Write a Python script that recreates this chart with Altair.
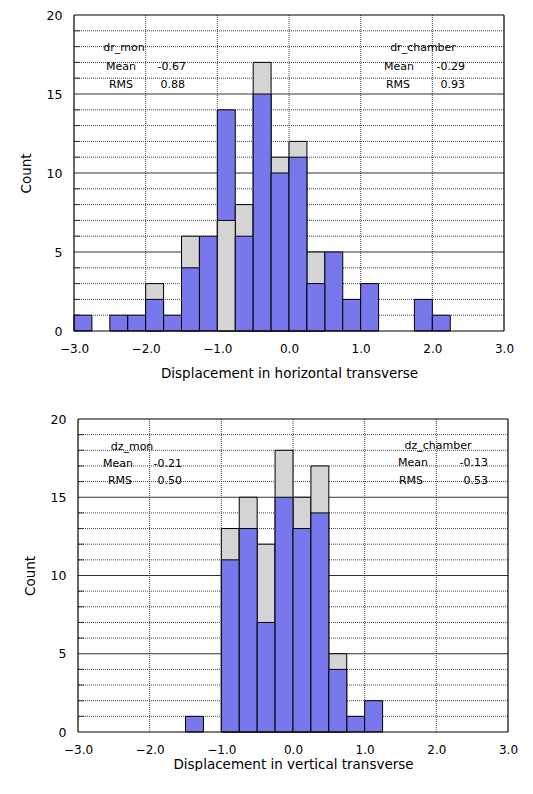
import altair as alt
import pandas as pd

# ---- data -------------------------------------------------------------
bin_start = [-3.0, -2.75, -2.5, -2.25, -2.0, -1.75, -1.5, -1.25,
             -1.0, -0.75, -0.5, -0.25, 0.0, 0.25, 0.5, 0.75,
             1.0, 1.25, 1.5, 1.75, 2.0, 2.25, 2.5, 2.75]
bin_width = 0.25

# horizontal transverse (dr)
dr_blue = [1, 0, 1, 1, 2, 1, 4, 6, 14, 6, 15, 10, 11, 3, 5, 2, 3, 0, 0, 2, 1, 0, 0, 0]
dr_grey = [0, 0, 0, 0, 3, 0, 6, 0, 7, 8, 17, 11, 12, 5, 0, 0, 0, 0, 0, 0, 0, 0, 0, 0]

# vertical transverse (dz)
dz_blue = [0, 0, 0, 0, 0, 0, 1, 0, 11, 13, 7, 15, 13, 14, 4, 1, 2, 0, 0, 0, 0, 0, 0, 0]
dz_grey = [0, 0, 0, 0, 0, 0, 0, 0, 13, 15, 12, 18, 15, 17, 5, 0, 0, 0, 0, 0, 0, 0, 0, 0]

x_ticks = [-3, -2, -1, 0, 1, 2, 3]
y_ticks = [0, 5, 10, 15, 20]
minor_y = [1, 2, 3, 4, 6, 7, 8, 9, 11, 12, 13, 14, 16, 17, 18, 19]
major_y = [5, 10, 15]
grid_x = [-2, -1, 0, 1, 2]
frame_y = [0, 20]
frame_x = [-3, 3]

dr_stats = {"mon": ("dr_mon", "-0.67", "0.88"), "chamber": ("dr_chamber", "-0.29", "0.93")}
dz_stats = {"mon": ("dz_mon", "-0.21", "0.50"), "chamber": ("dz_chamber", "-0.13", "0.53")}

BLUE = "#7878ec"
GREY = "#d4d4d4"
FONT = "DejaVu Sans"
PLOT_W = 430


def panel(blue, grey, xtitle, stats, pos, height, xtitle_pad):
    rows = []
    for s, b, g in zip(bin_start, blue, grey):
        rows.append({"x0": s, "x1": s + bin_width, "count": b, "series": "blue"})
        rows.append({"x0": s, "x1": s + bin_width, "count": g, "series": "grey"})
    df = pd.DataFrame(rows)

    xs = alt.Scale(domain=[-3, 3], nice=False, zero=False)
    ys = alt.Scale(domain=[0, 20], nice=False)
    xax = alt.Axis(values=x_ticks, format=".1f", title=xtitle, grid=False, domain=False,
                   ticks=False, labelFlush=False, labelPadding=12, titlePadding=xtitle_pad,
                   labelFontSize=12, titleFontSize=13.5, titleFontWeight="normal",
                   labelFont=FONT, titleFont=FONT, labelColor="black", titleColor="black")
    yax = alt.Axis(values=y_ticks, title="Count", grid=False, domain=False, ticks=False,
                   labelFlush=False, labelPadding=12, titlePadding=13,
                   labelFontSize=12.5, titleFontSize=13.5, titleFontWeight="normal",
                   labelFont=FONT, titleFont=FONT, labelColor="black", titleColor="black")

    minor = alt.Chart(pd.DataFrame({"y": minor_y})).mark_rule(
        color="#444444", strokeDash=[1, 1], strokeWidth=1).encode(
        y=alt.Y("y:Q", scale=ys, axis=yax))
    major = alt.Chart(pd.DataFrame({"y": major_y})).mark_rule(
        color="#333333", strokeWidth=1).encode(y=alt.Y("y:Q", scale=ys))
    ticks_in = alt.Chart(pd.DataFrame({"y": minor_y})).mark_rule(
        color="#333333", strokeWidth=1).encode(
        y=alt.Y("y:Q", scale=ys), x=alt.value(0), x2=alt.value(6))
    vert = alt.Chart(pd.DataFrame({"x": grid_x})).mark_rule(
        color="#444444", strokeDash=[1, 1], strokeWidth=1).encode(
        x=alt.X("x:Q", scale=xs, axis=xax))

    color = alt.Color("series:N", scale=alt.Scale(domain=["blue", "grey"], range=[BLUE, GREY]),
                      legend=None)
    base = alt.Chart(df).transform_filter("datum.count > 0").transform_joinaggregate(
        maxc="max(count)", groupby=["x0"])
    enc = dict(x=alt.X("x0:Q", scale=xs), x2="x1:Q", y=alt.Y("count:Q", scale=ys),
               y2=alt.datum(0), color=color)
    back = base.transform_filter("datum.count == datum.maxc").mark_bar(
        stroke="black", strokeWidth=1, opacity=1).encode(**enc)
    front = base.transform_filter("datum.count < datum.maxc").mark_bar(
        stroke="black", strokeWidth=1, opacity=1).encode(**enc)

    frame_h = alt.Chart(pd.DataFrame({"y": frame_y})).mark_rule(
        color="black", strokeWidth=1.2).encode(y=alt.Y("y:Q", scale=ys))
    frame_v = alt.Chart(pd.DataFrame({"x": frame_x})).mark_rule(
        color="black", strokeWidth=1.2).encode(x=alt.X("x:Q", scale=xs))

    texts = []
    for key in ["mon", "chamber"]:
        name, mean, rms = stats[key]
        p = pos[key]
        items = [
            (name, p["name"], "center"),
            ("Mean", p["mean"], "center"),
            ("RMS", p["rms"], "center"),
            (mean, p["meanv"], "right"),
            (rms, p["rmsv"], "right"),
        ]
        for t, (px, py), al in items:
            texts.append(alt.Chart(pd.DataFrame({"t": [t]})).mark_text(
                align=al, baseline="middle", font=FONT, fontSize=11, color="black").encode(
                text="t:N", x=alt.value(px), y=alt.value(py)))

    return alt.layer(minor, major, vert, ticks_in, back, front, frame_h, frame_v,
                     *texts).properties(width=PLOT_W, height=height)


dr_pos = {
    "mon": {"name": (50, 33), "mean": (47, 52), "rms": (47, 70), "meanv": (112, 52), "rmsv": (111, 70)},
    "chamber": {"name": (349, 33), "mean": (325, 52), "rms": (324, 70), "meanv": (391, 52), "rmsv": (391, 70)},
}
dz_pos = {
    "mon": {"name": (54, 28), "mean": (40, 45), "rms": (42, 62), "meanv": (104, 45), "rmsv": (104, 62)},
    "chamber": {"name": (360, 27), "mean": (335, 44), "rms": (333, 62), "meanv": (410, 44), "rmsv": (410, 62)},
}

top = panel(dr_blue, dr_grey, "Displacement in horizontal transverse", dr_stats, dr_pos, 316, 12)
bottom = panel(dz_blue, dz_grey, "Displacement in vertical transverse", dz_stats, dz_pos, 313, 2)


def spacer():
    return alt.Chart(pd.DataFrame({"a": [0]})).mark_rect(opacity=0).encode(
        x=alt.value(0), x2=alt.value(1), y=alt.value(0), y2=alt.value(1)).properties(
        width=1, height=1, view=alt.ViewBackground(stroke="transparent"))


chart = alt.vconcat(
    alt.hconcat(spacer(), top, spacing=7),
    alt.hconcat(spacer(), bottom, spacing=11),
    spacing=32,
).properties(
    padding={"left": 0, "top": 0, "right": 0, "bottom": 0}
).configure(background="white").configure_view(stroke="transparent")

chart.save("out.html", embed_options={"renderer": "svg", "actions": False})
